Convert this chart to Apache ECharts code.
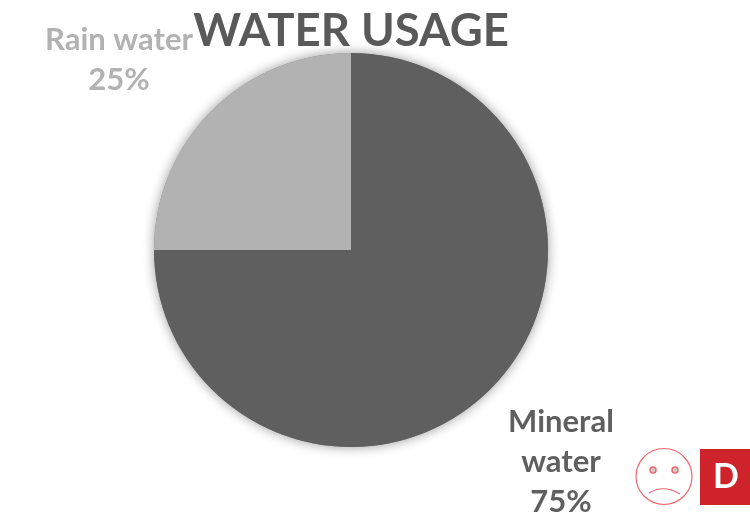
<!DOCTYPE html>
<html><head><meta charset="utf-8">
<style>html,body{margin:0;padding:0;background:#fff}#c{width:750px;height:523px}</style>
<script src="https://cdn.jsdelivr.net/npm/echarts@6/dist/echarts.min.js"></script>
</head><body><div id="c"></div>
<script>
const categories = ["Mineral water", "Rain water"];
const values = [75, 25];
const labelNames = ["Mineral\nwater", "Rain water"];
const colors = ["#5f5f5f", "#b2b2b2"];
const labelAnchors = [[561, 462], [119, 60]];
const chart = echarts.init(document.getElementById('c'), null, {renderer:'canvas'});
const font = 'Lato, "Open Sans", sans-serif';
const red = '#f0686c';
const pieBase = {type:'pie',center:[351,250],radius:[0,197],startAngle:90,clockwise:true,silent:true};
chart.setOption({
  animation:false,
  title:{text:"WATER USAGE",left:346,top:3,textAlign:'center',textStyle:{fontFamily:font,fontSize:45.5,fontWeight:'bold',color:'#595959'}},
  series:[
    {...pieBase,z:1,
      data:categories.map((n,i)=>({name:n,value:values[i]})),
      itemStyle:{color:'#888',shadowBlur:12,shadowColor:'rgba(0,0,0,0.4)'},
      label:{show:false},labelLine:{show:false}},
    {...pieBase,z:2,
      data:categories.map((n,i)=>({name:n,value:values[i],itemStyle:{color:colors[i]},
        label:{color:colors[i],formatter:labelNames[i]+'\n'+values[i]+'%'}})),
      label:{show:true,position:'outside',fontFamily:font,fontSize:31,fontWeight:'bold',lineHeight:40,align:'center'},
      labelLine:{show:false},
      labelLayout:p=>({x:labelAnchors[p.dataIndex][0],y:labelAnchors[p.dataIndex][1],align:'center',verticalAlign:'middle'})
    }],
  graphic:[
    {type:'circle',shape:{cx:664,cy:476.5,r:28},style:{fill:'#fff',stroke:red,lineWidth:1.2}},
    {type:'circle',shape:{cx:653,cy:470,r:3},style:{fill:'#ccc',stroke:red,lineWidth:1.5}},
    {type:'circle',shape:{cx:675,cy:470,r:3},style:{fill:'#ccc',stroke:red,lineWidth:1.5}},
    {type:'bezierCurve',shape:{x1:649,y1:493,x2:680,y2:494,cpx1:664,cpy1:484},style:{fill:'none',stroke:red,lineWidth:1.2}},
    {type:'rect',shape:{x:700,y:449,width:50,height:56},style:{fill:'#cf232b'}},
    {type:'text',x:726,y:477,style:{text:"D",font:'bold 34px '+font,fill:'#fff',align:'center',verticalAlign:'middle'}}
  ]
});
</script></body></html>
